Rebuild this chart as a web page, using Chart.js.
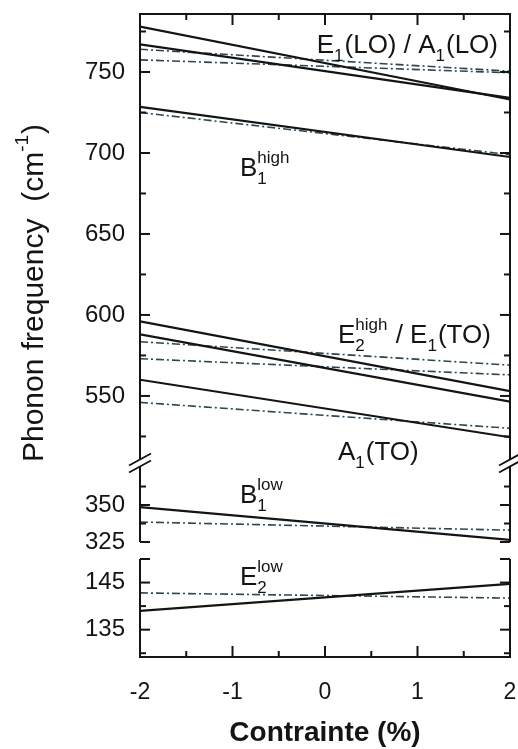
<!DOCTYPE html>
<html>
<head>
<meta charset="utf-8">
<script src="https://cdn.jsdelivr.net/npm/chart.js@4.4.1/dist/chart.umd.min.js"></script>
<style>
  html, body { margin: 0; padding: 0; background: #fff; }
  #wrap { position: relative; width: 518px; height: 749px; }
  .panel { position: absolute; left: 0; width: 518px; }
</style>
</head>
<body>
<div id="wrap">
  <div class="panel" style="top:0;height:470px"><canvas id="c-top"></canvas></div>
  <div class="panel" style="top:440px;height:110px"><canvas id="c-mid"></canvas></div>
  <div class="panel" style="top:540px;height:209px"><canvas id="c-low"></canvas></div>
</div>
<script>
// strain (%) at the two ends of every line
const strain = [-2, 2];

// upper panel (cm-1)
const a1LOSolid = [778, 733];
const e1LOSolid = [767, 734];
const e1LODash = [764, 750.5];
const a1LODash = [757.5, 749.5];
const b1HighSolid = [728.5, 697.5];
const b1HighDash = [725, 699];
const e2HighSolid = [596, 553];
const e1TOSolid = [588, 546.5];
const e2HighDash = [583.5, 569];
const e1TODash = [573, 563];
const a1TOSolid = [560, 524.5];
const a1TODash = [546, 530];

// middle panel
const b1LowSolid = [348.6, 326.4];
const b1LowDash = [338.5, 333];

// lower panel
const e2LowSolid = [139, 144.7];
const e2LowDash = [142.8, 141.7];

// ticks
const xTicks = [-2, -1.5, -1, -0.5, 0, 0.5, 1, 1.5, 2];
const xLabels = [-2, -1, 0, 1, 2];
const topTicks = [525, 550, 575, 600, 625, 650, 675, 700, 725, 750, 775];
const topLabels = [550, 600, 650, 700, 750];
const midTicks = [325, 337.5, 350, 362.5];
const midLabels = [325, 350];
const lowTicks = [130, 135, 140, 145, 150];
const lowLabels = [135, 145];

const family = '"Liberation Sans", Arial, Helvetica, sans-serif';
const ink = '#141414';
const dashInk = '#2c4653';

function drawRich(ctx, x, y, parts, align, size) {
  const big = size + 'px ' + family;
  const small = Math.round(size * 0.64) + 'px ' + family;
  const widthOf = p => {
    if (p.t) { ctx.font = big; return ctx.measureText(p.t).width; }
    ctx.font = small;
    return Math.max(p.sub ? ctx.measureText(p.sub).width : 0, p.sup ? ctx.measureText(p.sup).width : 0) + 1;
  };
  const total = parts.reduce((s, p) => s + widthOf(p), 0);
  let cx = align === 'right' ? x - total : align === 'center' ? x - total / 2 : x;
  ctx.textAlign = 'left';
  ctx.textBaseline = 'alphabetic';
  ctx.fillStyle = ink;
  parts.forEach(p => {
    const w = widthOf(p);
    if (p.t) {
      ctx.font = big;
      ctx.fillText(p.t, cx, y);
    } else {
      ctx.font = small;
      if (p.sub) ctx.fillText(p.sub, cx, y + size * 0.3);
      if (p.sup) ctx.fillText(p.sup, cx, y - size * 0.5);
    }
    cx += w;
  });
}

// frame, inward ticks, axis break and mode names
function framePlugin(conf) {
  return {
    id: 'frame',
    afterDraw(chart) {
      const { ctx, chartArea: a, scales: { x, y } } = chart;
      const seg = (x1, y1, x2, y2) => { ctx.beginPath(); ctx.moveTo(x1, y1); ctx.lineTo(x2, y2); ctx.stroke(); };
      ctx.save();
      ctx.strokeStyle = ink;
      ctx.lineWidth = 2;
      const t0 = a.top + (conf.gapTop || 0);
      const b0 = a.bottom - (conf.gapBottom || 0);
      seg(a.left, t0, a.left, b0);
      seg(a.right, t0, a.right, b0);
      if (conf.edgeTop) seg(a.left - 1, a.top, a.right + 1, a.top);
      if (conf.edgeBottom) seg(a.left - 1, a.bottom, a.right + 1, a.bottom);

      y.ticks.forEach(t => {
        const py = y.getPixelForValue(t.value);
        const len = conf.major.includes(t.value) ? 10 : 6;
        seg(a.left, py, a.left + len, py);
        seg(a.right, py, a.right - len, py);
      });
      x.ticks.forEach(t => {
        const px = x.getPixelForValue(t.value);
        const len = xLabels.includes(t.value) ? 11 : 6;
        if (conf.edgeTop) seg(px, a.top, px, a.top + len);
        if (conf.edgeBottom) seg(px, a.bottom, px, a.bottom - len);
      });

      if (conf.breakTop) {
        ctx.lineWidth = 1.8;
        [a.left, a.right].forEach(cx => {
          [-3.5, 3.5].forEach(d => seg(cx - 11, a.top + d + 6, cx + 11, a.top + d - 6));
        });
      }

      (conf.labels || []).forEach(l => {
        drawRich(ctx, x.getPixelForValue(l.x), y.getPixelForValue(l.y), l.parts, l.align || 'left', 26);
      });

      if (conf.yTitle) {
        ctx.translate(43, 293);
        ctx.rotate(-Math.PI / 2);
        drawRich(ctx, 0, 0, [{ t: 'Phonon frequency  (cm' }, { sup: '-1' }, { t: ')' }], 'center', 30);
      }
      ctx.restore();
    }
  };
}

function noOverhang(s) {
  s.paddingLeft = 0;
  s.paddingRight = 0;
  s.paddingTop = 0;
  s.paddingBottom = 0;
}

function makePanel(id, conf) {
  const datasets = conf.series.map(s => ({
    data: s.values.map((v, i) => ({ x: strain[i], y: v })),
    borderColor: s.dash ? dashInk : ink,
    borderWidth: s.dash ? 1.6 : 2.2,
    borderDash: s.dash ? [8, 3, 2, 3] : [],
    pointRadius: 0,
    fill: false,
    tension: 0
  }));
  return new Chart(document.getElementById(id), {
    type: 'line',
    data: { datasets },
    options: {
      responsive: true,
      maintainAspectRatio: false,
      animation: false,
      events: [],
      layout: { padding: { top: conf.padTop, bottom: conf.padBottom, left: 0, right: 8 } },
      plugins: { legend: { display: false }, tooltip: { enabled: false } },
      scales: {
        x: {
          type: 'linear', min: -2, max: 2,
          display: !!conf.showX,
          afterBuildTicks: s => { s.ticks = xTicks.map(v => ({ value: v })); },
          afterFit: s => { s.height = conf.showX ? 92 : 0; noOverhang(s); },
          grid: { display: false, drawTicks: false },
          border: { display: false },
          ticks: {
            autoSkip: false, maxRotation: 0, padding: 22,
            callback: v => xLabels.includes(v) ? String(v) : '',
            font: { family, size: 23 }, color: ink
          },
          title: {
            display: !!conf.showX, text: 'Contrainte (%)',
            font: { family, size: 28, weight: 'bold', lineHeight: 1.1 }, color: ink,
            padding: { top: 0, bottom: 0 }
          }
        },
        y: {
          type: 'linear', min: conf.min, max: conf.max,
          afterBuildTicks: s => { s.ticks = conf.ticks.map(v => ({ value: v })); },
          afterFit: s => { s.width = 140; noOverhang(s); },
          grid: { display: false, drawTicks: false },
          border: { display: false },
          ticks: {
            autoSkip: false, padding: 15,
            callback: v => conf.labels.includes(v) ? String(v) : '',
            font: { family, size: 24 }, color: ink
          }
        }
      }
    },
    plugins: [framePlugin(conf.frame)]
  });
}

makePanel('c-top', {
  padTop: 14, padBottom: 7, min: 508.6, max: 785.8,
  ticks: topTicks, labels: topLabels,
  series: [
    { values: a1LOSolid }, { values: e1LOSolid },
    { values: e1LODash, dash: true }, { values: a1LODash, dash: true },
    { values: b1HighSolid }, { values: b1HighDash, dash: true },
    { values: e2HighSolid }, { values: e1TOSolid },
    { values: e2HighDash, dash: true }, { values: e1TODash, dash: true },
    { values: a1TOSolid }, { values: a1TODash, dash: true }
  ],
  frame: {
    edgeTop: true, gapBottom: 3.5, major: topLabels, yTitle: true,
    labels: [
      { x: 1.87, y: 761.7, align: 'right', parts: [{ t: 'E' }, { sub: '1' }, { t: '(LO) / A' }, { sub: '1' }, { t: '(LO)' }] },
      { x: -0.92, y: 685.8, parts: [{ t: 'B' }, { sub: '1', sup: 'high' }] },
      { x: 0.14, y: 582.7, parts: [{ t: 'E' }, { sub: '2', sup: 'high' }, { t: ' / E' }, { sub: '1' }, { t: '(TO)' }] },
      { x: 0.14, y: 510.4, parts: [{ t: 'A' }, { sub: '1' }, { t: '(TO)' }] }
    ]
  }
});

makePanel('c-mid', {
  padTop: 23, padBottom: 8, min: 325, max: 378.4,
  ticks: midTicks, labels: midLabels,
  series: [{ values: b1LowSolid }, { values: b1LowDash, dash: true }],
  frame: {
    gapTop: 3.5, breakTop: true, major: midLabels,
    labels: [{ x: -0.92, y: 351.4, parts: [{ t: 'B' }, { sub: '1', sup: 'low' }] }]
  }
});

makePanel('c-low', {
  padTop: 19, padBottom: 0, min: 129.2, max: 150, showX: true,
  ticks: lowTicks, labels: lowLabels,
  series: [{ values: e2LowSolid }, { values: e2LowDash, dash: true }],
  frame: {
    edgeBottom: true, major: [135, 145, 150],
    labels: [{ x: -0.92, y: 144.5, parts: [{ t: 'E' }, { sub: '2', sup: 'low' }] }]
  }
});
</script>
</body>
</html>
